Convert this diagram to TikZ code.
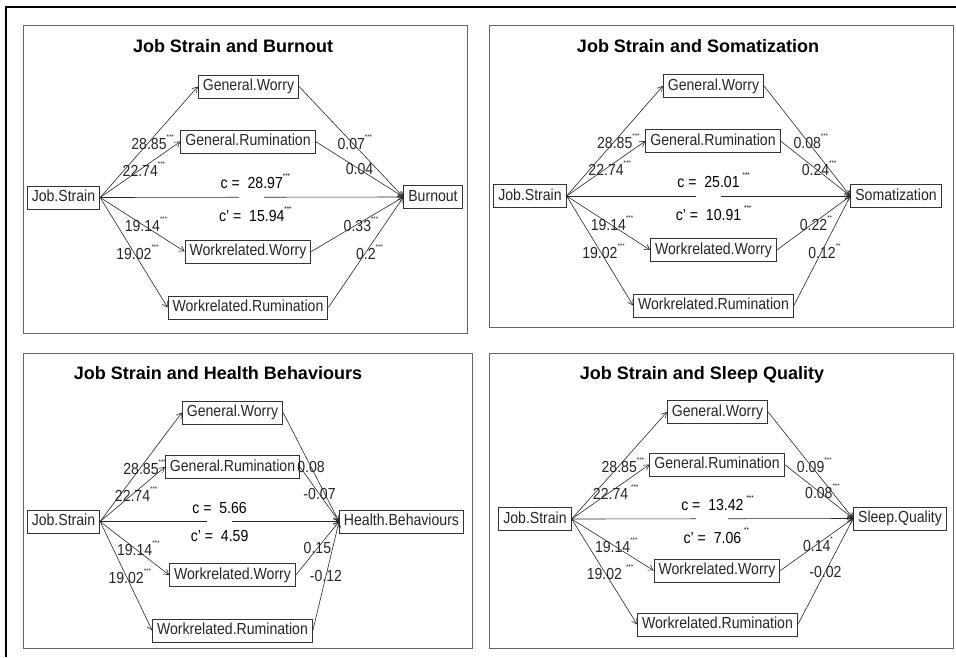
\documentclass[tikz,border=0pt]{standalone}
\usepackage{fontspec}
\setmainfont{Liberation Sans}[FakeStretch=0.88]
\newfontfamily\titlefont{Liberation Sans}
\usetikzlibrary{arrows.meta}

% significance stars, kept out of the label width
\newcommand{\sig}[1]{\rlap{\raisebox{1.2ex}{\fontsize{7}{7}\selectfont #1}}}

\tikzset{
  box/.style={draw=black!80, line width=0.9pt, font=\fontsize{16}{18}\selectfont,
    text=black!85, inner xsep=4.5pt, inner ysep=3pt, minimum height=23pt,
    text height=11.5pt, text depth=3.5pt},
  edgeline/.style={->, line width=0.6pt, draw=black!85},
  lab/.style={font=\fontsize{16}{18}\selectfont, text=black!85, inner sep=0pt},
  clab/.style={font=\fontsize{16}{18}\selectfont, text=black, inner sep=0pt},
  gap/.style={fill=white, inner sep=0pt, minimum width=25pt, minimum height=3pt},
  panel/.style={draw=black!60, line width=0.9pt},
  ptitle/.style={font=\titlefont\fontsize{18}{20}\selectfont\bfseries, anchor=base}
}

\begin{document}
\begin{tikzpicture}[x=1pt, y=-1pt, >={Straight Barb[length=5pt,width=6pt]}]
  \path[use as bounding box] (0,0) rectangle (956,657);

  \draw[line width=2pt] (6,657) -- (6,7) -- (956,7);

%%%%%%%%%%%% Burnout
  \begin{scope}
    \draw[panel] (23,25) rectangle (467,333);
    \node[ptitle] (tA) at (233,52) {Job Strain and Burnout};
    \node[box] (jsA) at (63.5,197.5) {Job.Strain};
    \node[box] (gwA) at (248.5,86.5) {General.Worry};
    \node[box] (grA) at (248,141.5) {General.Rumination};
    \node[box] (wwA) at (248,251.5) {Workrelated.Worry};
    \node[box] (wrA) at (248,307.5) {Workrelated.Rumination};
    \node[box] (outA) at (433,197) {Burnout};
    \draw[edgeline] (jsA.east) -- node[lab] {28.85\sig{***}} (gwA.west);
    \draw[edgeline] (jsA.east) -- node[lab] {22.74\sig{***}} (grA.west);
    \draw[edgeline] (jsA.east) -- node[lab] {19.14\sig{***}} (wwA.west);
    \draw[edgeline] (jsA.east) -- node[lab] {19.02\sig{***}} (wrA.west);
    \draw[edgeline] (gwA.east) -- node[lab] {0.07\sig{***}} (outA.west);
    \draw[edgeline] (grA.east) -- node[lab] {0.04} (outA.west);
    \draw[edgeline] (wwA.east) -- node[lab] {0.33\sig{***}} (outA.west);
    \draw[edgeline] (wrA.east) -- node[lab] {0.2\sig{***}} (outA.west);
    \draw[edgeline] (jsA.east) -- node[gap] {}
      node[clab, above=8pt] {c =\ \ 28.97\sig{***}}
      node[clab, below=9pt] {c' =\ \ 15.94\sig{***}} (outA.west);
  \end{scope}

%%%%%%%%%%%% Somatization
  \begin{scope}
    \draw[panel] (489,25) rectangle (953,327);
    \node[ptitle] (tB) at (698,52) {Job Strain and Somatization};
    \node[box] (jsB) at (530,196) {Job.Strain};
    \node[box] (gwB) at (713.5,86) {General.Worry};
    \node[box] (grB) at (713,141) {General.Rumination};
    \node[box] (wwB) at (713.5,250) {Workrelated.Worry};
    \node[box] (wrB) at (713.5,305.5) {Workrelated.Rumination};
    \node[box] (outB) at (896,196) {Somatization};
    \draw[edgeline] (jsB.east) -- node[lab] {28.85\sig{***}} (gwB.west);
    \draw[edgeline] (jsB.east) -- node[lab] {22.74\sig{***}} (grB.west);
    \draw[edgeline] (jsB.east) -- node[lab] {19.14\sig{***}} (wwB.west);
    \draw[edgeline] (jsB.east) -- node[lab] {19.02\sig{***}} (wrB.west);
    \draw[edgeline] (gwB.east) -- node[lab] {0.08\sig{***}} (outB.west);
    \draw[edgeline] (grB.east) -- node[lab] {0.24\sig{***}} (outB.west);
    \draw[edgeline] (wwB.east) -- node[lab] {0.22\sig{**}} (outB.west);
    \draw[edgeline] (wrB.east) -- node[lab] {0.12\sig{**}} (outB.west);
    \draw[edgeline] (jsB.east) -- node[gap] {}
      node[clab, above=8pt] {c =\ \ 25.01\sig{\hspace{3pt}***}}
      node[clab, below=9pt] {c' =\ \ 10.91\sig{\hspace{3pt}***}} (outB.west);
  \end{scope}

%%%%%%%%%%%% Health Behaviours
  \begin{scope}
    \draw[panel] (23,353) rectangle (472,648);
    \node[ptitle] (tC) at (218,379) {Job Strain and Health Behaviours};
    \node[box] (jsC) at (63.5,521.5) {Job.Strain};
    \node[box] (gwC) at (232.5,412.5) {General.Worry};
    \node[box] (grC) at (232.5,467) {General.Rumination};
    \node[box] (wwC) at (232.5,575) {Workrelated.Worry};
    \node[box] (wrC) at (232.5,630.5) {Workrelated.Rumination};
    \node[box] (outC) at (401.5,521.5) {Health.Behaviours};
    \draw[edgeline] (jsC.east) -- node[lab] {28.85\sig{***}} (gwC.west);
    \draw[edgeline] (jsC.east) -- node[lab] {22.74\sig{***}} (grC.west);
    \draw[edgeline] (jsC.east) -- node[lab] {19.14\sig{***}} (wwC.west);
    \draw[edgeline] (jsC.east) -- node[lab] {19.02\sig{***}} (wrC.west);
    \draw[edgeline] (gwC.east) -- node[lab] {0.08} (outC.west);
    \draw[edgeline] (grC.east) -- node[lab] {-0.07} (outC.west);
    \draw[edgeline] (wwC.east) -- node[lab] {0.15} (outC.west);
    \draw[edgeline] (wrC.east) -- node[lab] {-0.12} (outC.west);
    \draw[edgeline] (jsC.east) -- node[gap] {}
      node[clab, above=8pt] {c =\ \ 5.66}
      node[clab, below=9pt] {c' =\ \ 4.59} (outC.west);
  \end{scope}

%%%%%%%%%%%% Sleep Quality
  \begin{scope}
    \draw[panel] (489,353) rectangle (953,648);
    \node[ptitle] (tD) at (702,379) {Job Strain and Sleep Quality};
    \node[box] (jsD) at (535,519) {Job.Strain};
    \node[box] (gwD) at (717.5,412) {General.Worry};
    \node[box] (grD) at (717,464.5) {General.Rumination};
    \node[box] (wwD) at (717,570.5) {Workrelated.Worry};
    \node[box] (wrD) at (717.5,624.5) {Workrelated.Rumination};
    \node[box] (outD) at (900,518.5) {Sleep.Quality};
    \draw[edgeline] (jsD.east) -- node[lab] {28.85\sig{***}} (gwD.west);
    \draw[edgeline] (jsD.east) -- node[lab] {22.74\sig{\hspace{3pt}***}} (grD.west);
    \draw[edgeline] (jsD.east) -- node[lab] {19.14\sig{***}} (wwD.west);
    \draw[edgeline] (jsD.east) -- node[lab] {19.02\sig{\hspace{4pt}***}} (wrD.west);
    \draw[edgeline] (gwD.east) -- node[lab] {0.09\sig{***}} (outD.west);
    \draw[edgeline] (grD.east) -- node[lab] {0.08\sig{***}} (outD.west);
    \draw[edgeline] (wwD.east) -- node[lab] {0.14\sig{*}} (outD.west);
    \draw[edgeline] (wrD.east) -- node[lab] {-0.02} (outD.west);
    \draw[edgeline] (jsD.east) -- node[gap, minimum width=32pt] {}
      node[clab, above=8pt] {c =\ \ 13.42\sig{\hspace{3pt}***}}
      node[clab, below=9pt] {c' =\ \ 7.06\sig{\hspace{3pt}**}} (outD.west);
  \end{scope}
\end{tikzpicture}
\end{document}
